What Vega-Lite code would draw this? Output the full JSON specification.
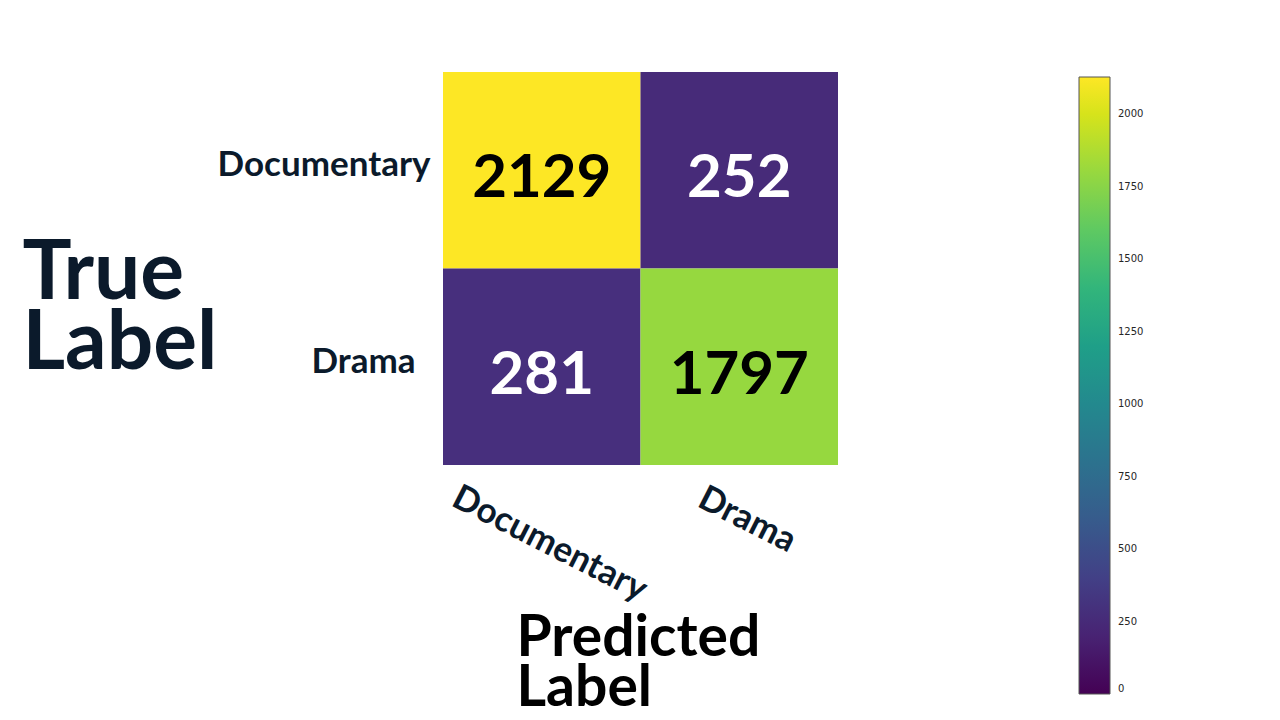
{
  "$schema": "https://vega.github.io/schema/vega-lite/v6.json",
  "width": 395,
  "height": 393,
  "autosize": {"type": "none"},
  "padding": {"left": 443, "top": 72, "right": 442, "bottom": 255},
  "background": "white",
  "config": {"view": {"stroke": null}},
  "data": {
    "values": [
      {"true": "Documentary", "pred": "Documentary", "count": 2129},
      {"true": "Documentary", "pred": "Drama", "count": 252},
      {"true": "Drama", "pred": "Documentary", "count": 281},
      {"true": "Drama", "pred": "Drama", "count": 1797}
    ]
  },
  "encoding": {
    "x": {
      "field": "pred",
      "type": "nominal",
      "sort": ["Documentary", "Drama"],
      "scale": {"paddingInner": 0, "paddingOuter": 0},
      "axis": {
        "title": ["Predicted", "Label"],
        "titleFont": "Lato",
        "titleFontWeight": "bold",
        "titleFontSize": 57,
        "titleColor": "#000000",
        "titleLineHeight": 50,
        "titleAlign": "left",
        "titleBaseline": "top",
        "titleX": 73,
        "titleY": 145,
        "labelAngle": 27,
        "labelAlign": "center",
        "labelBaseline": "middle",
        "labelFont": "Lato",
        "labelFontWeight": "bold",
        "labelFontSize": 35,
        "labelLimit": 0,
        "labelColor": "#0b1a2b",
        "labelOffset": 8,
        "labelPadding": {"condition": {"test": "datum.value == 'Documentary'", "value": 78}, "value": 54},
        "ticks": false,
        "domain": false,
        "labelOverlap": false,
        "labelBound": false,
        "labelFlush": false
      }
    },
    "y": {
      "field": "true",
      "type": "nominal",
      "sort": ["Documentary", "Drama"],
      "scale": {"paddingInner": 0, "paddingOuter": 0},
      "axis": {
        "title": ["True", "Label"],
        "titleFont": "Lato",
        "titleFontWeight": "bold",
        "titleFontSize": 82,
        "titleColor": "#0b1a2b",
        "titleLineHeight": 70,
        "titleAngle": 0,
        "titleAlign": "left",
        "titleBaseline": "top",
        "titleX": -421,
        "titleY": 161,
        "labelFont": "Lato",
        "labelFontWeight": "bold",
        "labelFontSize": 35,
        "labelLimit": 0,
        "labelColor": "#0b1a2b",
        "labelOffset": -5,
        "labelPadding": {"condition": {"test": "datum.value == 'Documentary'", "value": 13}, "value": 28},
        "ticks": false,
        "domain": false,
        "labelOverlap": false
      }
    }
  },
  "layer": [
    {
      "mark": {"type": "rect"},
      "encoding": {
        "color": {
          "field": "count",
          "type": "quantitative",
          "scale": {"scheme": "viridis", "domain": [0, 2129]},
          "legend": {
            "title": null,
            "orient": "none",
            "legendX": 636,
            "legendY": 5,
            "direction": "vertical",
            "gradientLength": 617,
            "gradientThickness": 31,
            "gradientStrokeColor": "#555555",
            "gradientStrokeWidth": 1,
            "values": [0, 250, 500, 750, 1000, 1250, 1500, 1750, 2000],
            "format": "d",
            "labelFont": "DejaVu Sans",
            "labelFontSize": 10,
            "labelColor": "#262626",
            "labelOffset": 8,
            "labelOverlap": false
          }
        }
      }
    },
    {
      "mark": {"type": "text", "font": "Lato", "fontWeight": "bold", "fontSize": 60, "baseline": "middle", "dy": 9},
      "encoding": {
        "text": {"field": "count", "type": "quantitative"},
        "color": {"condition": {"test": "datum.count > 1000", "value": "#000000"}, "value": "#ffffff"}
      }
    }
  ]
}
